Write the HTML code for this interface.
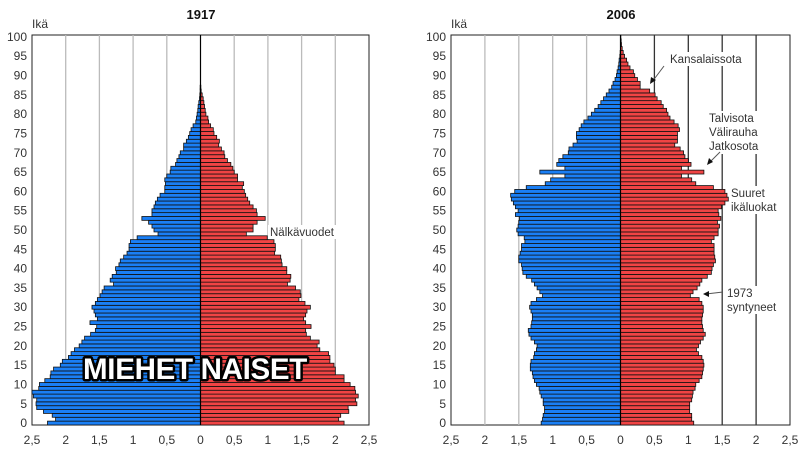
<!DOCTYPE html>
<html><head><meta charset="utf-8"><style>
html,body{margin:0;padding:0;background:#fff;}
svg{display:block;font-family:"Liberation Sans",sans-serif;}
</style></head><body>
<svg id="s" width="800" height="449" viewBox="0 0 800 449" xmlns="http://www.w3.org/2000/svg">
<text x="201" y="19" font-size="13" font-weight="bold" text-anchor="middle" fill="#111">1917</text>
<text x="621" y="19" font-size="13" font-weight="bold" text-anchor="middle" fill="#111">2006</text>
<text x="32" y="28" font-size="12" fill="#333">Ikä</text>
<text x="451" y="28" font-size="12" fill="#333">Ikä</text>
<g id="g"></g>
<rect x="268" y="225" width="68" height="14" fill="#fff"/>
<text x="270" y="236" font-size="11.5" fill="#333">Nälkävuodet</text>
<rect x="668" y="52" width="76" height="14" fill="#fff"/>
<text x="670" y="63" font-size="11.5" fill="#333">Kansalaissota</text>
<line x1="664" y1="66" x2="652" y2="82" stroke="#555" stroke-width="1"/>
<polygon points="650,84 651,77 656,80" fill="#111"/>
<rect x="707" y="111" width="56" height="43" fill="#fff"/>
<text x="709" y="122" font-size="11.5" fill="#333">Talvisota</text>
<text x="709" y="136" font-size="11.5" fill="#333">Välirauha</text>
<text x="709" y="150" font-size="11.5" fill="#333">Jatkosota</text>
<line x1="720" y1="152" x2="709" y2="163" stroke="#555" stroke-width="1"/>
<polygon points="707,165 709,158 713,162" fill="#111"/>
<rect x="729" y="186" width="54" height="28" fill="#fff"/>
<text x="731" y="197" font-size="11.5" fill="#333">Suuret</text>
<text x="731" y="211" font-size="11.5" fill="#333">ikäluokat</text>
<rect x="725" y="286" width="54" height="28" fill="#fff"/>
<text x="727" y="297" font-size="11.5" fill="#333">1973</text>
<text x="727" y="311" font-size="11.5" fill="#333">syntyneet</text>
<line x1="723" y1="292" x2="706" y2="294" stroke="#555" stroke-width="1"/>
<polygon points="703,294 709,291 709,297" fill="#111"/>
<text x="195" y="379" font-size="29.5" font-weight="bold" text-anchor="middle" fill="#fff" stroke="#000" stroke-width="5" paint-order="stroke" stroke-linejoin="round" letter-spacing="-0.3">MIEHET NAISET</text>
</svg>
<script>
var m1=[2.27,2.15,2.2,2.33,2.43,2.44,2.43,2.48,2.5,2.4,2.39,2.31,2.23,2.22,2.18,2.08,2.05,1.96,1.92,1.87,1.8,1.76,1.72,1.63,1.56,1.54,1.64,1.53,1.56,1.58,1.61,1.56,1.53,1.49,1.46,1.43,1.29,1.34,1.31,1.25,1.26,1.21,1.19,1.14,1.09,1.06,1.06,1.04,0.94,0.63,0.69,0.72,0.77,0.87,0.72,0.72,0.69,0.67,0.64,0.6,0.53,0.53,0.52,0.53,0.5,0.45,0.44,0.37,0.35,0.32,0.3,0.25,0.25,0.21,0.18,0.16,0.14,0.11,0.07,0.06,0.05,0.04,0.035,0.025,0.015,0.01,0.005,0.005,0.004,0.003,0.002];
var f1=[2.13,2.05,2.08,2.2,2.19,2.32,2.3,2.34,2.3,2.29,2.22,2.13,2.13,2.0,2.0,1.98,1.92,1.92,1.9,1.77,1.73,1.76,1.63,1.57,1.56,1.64,1.56,1.53,1.56,1.58,1.63,1.55,1.46,1.49,1.48,1.41,1.29,1.33,1.34,1.28,1.28,1.21,1.2,1.19,1.1,1.11,1.11,1.09,0.99,0.68,0.78,0.78,0.84,0.96,0.84,0.83,0.78,0.73,0.7,0.67,0.65,0.62,0.64,0.55,0.55,0.5,0.48,0.45,0.4,0.36,0.35,0.31,0.27,0.28,0.24,0.2,0.19,0.15,0.12,0.11,0.08,0.07,0.06,0.05,0.04,0.025,0.01,0.005,0.004,0.003,0.002];
var m2=[1.17,1.15,1.14,1.12,1.12,1.14,1.14,1.17,1.19,1.2,1.24,1.27,1.29,1.3,1.33,1.33,1.32,1.28,1.27,1.24,1.23,1.27,1.32,1.35,1.36,1.32,1.31,1.3,1.3,1.32,1.34,1.32,1.24,1.15,1.19,1.23,1.27,1.31,1.39,1.44,1.45,1.46,1.5,1.5,1.48,1.46,1.46,1.41,1.42,1.51,1.53,1.51,1.5,1.49,1.55,1.51,1.55,1.58,1.61,1.62,1.56,1.39,1.11,1.03,0.82,1.19,0.82,0.94,0.91,0.85,0.77,0.76,0.7,0.64,0.65,0.65,0.61,0.58,0.54,0.48,0.43,0.38,0.33,0.29,0.25,0.21,0.17,0.13,0.11,0.08,0.06,0.05,0.035,0.025,0.02,0.01,0.005,0.004,0.003,0.002,0.001];
var f2=[1.08,1.05,1.05,1.02,1.02,1.02,1.05,1.06,1.07,1.1,1.11,1.16,1.2,1.21,1.22,1.23,1.22,1.2,1.15,1.12,1.15,1.18,1.22,1.25,1.22,1.21,1.2,1.2,1.21,1.22,1.22,1.2,1.16,1.03,1.07,1.13,1.17,1.2,1.28,1.34,1.35,1.37,1.4,1.39,1.38,1.38,1.38,1.34,1.38,1.44,1.44,1.46,1.43,1.48,1.45,1.44,1.49,1.54,1.59,1.57,1.54,1.37,1.11,1.05,0.9,1.23,0.9,1.04,1.0,0.95,0.93,0.88,0.8,0.84,0.84,0.84,0.87,0.85,0.79,0.73,0.7,0.68,0.63,0.6,0.54,0.51,0.43,0.29,0.29,0.25,0.21,0.19,0.14,0.11,0.09,0.06,0.04,0.025,0.015,0.01,0.005];
var g=document.getElementById('g'),h='';
function panel(x0,x1,cx,m,f,darkRight){
 var sc=(x1-x0)/5, top=35, bot=425, bh=(bot-top)/101;
 h+='<rect x="'+x0+'" y="'+top+'" width="'+(x1-x0)+'" height="'+(bot-top)+'" fill="#fff" stroke="#222" stroke-width="1"/>';
 for(var i=-4;i<=4;i++){if(i==0)continue;var x=cx+i*0.5*sc;var c=(darkRight&&i>0)?'#333':'#bbb';
  h+='<line x1="'+x+'" y1="'+top+'" x2="'+x+'" y2="'+bot+'" stroke="'+c+'" stroke-width="1.3"/>';}
 for(var a=0;a<m.length;a++){var y=bot-(a+1)*bh;var w=m[a]*sc;
  if(w>0.3)h+='<rect x="'+(cx-w)+'" y="'+y+'" width="'+w+'" height="'+bh+'" fill="#1a7ff5" stroke="#111" stroke-width="0.8"/>';}
 for(var a=0;a<f.length;a++){var y=bot-(a+1)*bh;var w=f[a]*sc;
  if(w>0.3)h+='<rect x="'+cx+'" y="'+y+'" width="'+w+'" height="'+bh+'" fill="#f04444" stroke="#111" stroke-width="0.8"/>';}
 h+='<line x1="'+cx+'" y1="'+top+'" x2="'+cx+'" y2="'+bot+'" stroke="#000" stroke-width="1.2"/>';
 for(var v=0;v<=100;v+=5){var y=bot-(v+0.5)*bh+4;h+='<text x="'+(x0-5)+'" y="'+y+'" font-size="12" text-anchor="end" fill="#333">'+v+'</text>';}
 var lb=['2,5','2','1,5','1','0,5','0','0,5','1','1,5','2','2,5'];
 for(var i=0;i<11;i++){var x=x0+i*0.5*sc;h+='<text x="'+x+'" y="444" font-size="12" text-anchor="middle" fill="#333">'+lb[i]+'</text>';}
}
panel(32,369,200.5,m1,f1,false);
panel(451,790,620.5,m2,f2,true);
g.innerHTML=h;
</script>
</body></html>
